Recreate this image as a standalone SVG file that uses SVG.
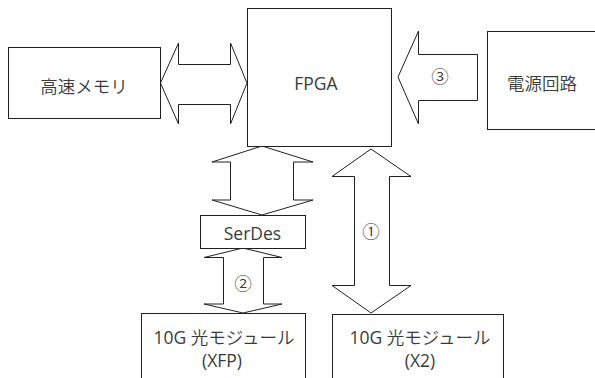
<svg xmlns="http://www.w3.org/2000/svg" width="595" height="378" viewBox="0 0 595 378">
<style>
.box{fill:#fff;stroke:#231f20;stroke-width:1}
.arr{fill:#fff;stroke:#231f20;stroke-width:1;stroke-linejoin:miter}
text{font-family:"Open Sans","Noto Sans CJK JP",sans-serif;font-size:17.5px;fill:#3a3a3a;text-anchor:middle}
.jp{font-family:"Noto Sans CJK JP",sans-serif;font-weight:350}
</style>
<rect width="595" height="378" fill="#fff"/>
<g id="connectors">
<polygon class="arr" points="160.5,83 178.5,43 178.5,64.5 230.5,64.5 230.5,43 247,83 230.5,124 230.5,104.5 178.5,104.5 178.5,124"/>
<polygon class="arr" points="398,77 418.5,31 418.5,54.5 477.5,54.5 477.5,100.5 418.5,100.5 418.5,124"/>
<polygon class="arr" points="262,146 313,162 293.5,162 293.5,200 313,200 262,215 212,200 230.5,200 230.5,162 212,162"/>
<polygon class="arr" points="243,248 282,257.5 263.5,257.5 263.5,304 282,304 243,313 204,304 223.5,304 223.5,257.5 204,257.5"/>
<polygon class="arr" points="371,149 411,176.5 389.5,176.5 389.5,285.5 411,285.5 371,313 332,285.5 354.5,285.5 354.5,176.5 332,176.5"/>
<text class="jp" x="440" y="83">③</text>
<text class="jp" x="243" y="289.5">②</text>
<text class="jp" x="371" y="237.5">①</text>
</g>
<g id="memory"><rect class="box" x="8.5" y="47.5" width="152" height="71"/><text class="jp" x="84" y="92.5">高速メモリ</text></g>
<g id="fpga"><rect class="box" x="247.5" y="8.5" width="144" height="138"/><text x="316" y="90" font-size="18.5">FPGA</text></g>
<g id="power"><rect class="box" x="487.5" y="31.5" width="120" height="98"/><text class="jp" x="542" y="90">電源回路</text></g>
<g id="serdes"><rect class="box" x="200.5" y="215.5" width="105" height="33"/><text x="252.5" y="240">SerDes</text></g>
<g id="xfp"><rect class="box" x="141.5" y="313.5" width="164" height="80"/><text x="224" y="343.5">10G <tspan class="jp">光モジュール</tspan></text><text x="222" y="367">(XFP)</text></g>
<g id="x2"><rect class="box" x="332.5" y="314.5" width="171" height="80"/><text x="420" y="343.5">10G <tspan class="jp">光モジュール</tspan></text><text x="420" y="367">(X2)</text></g>
</svg>
